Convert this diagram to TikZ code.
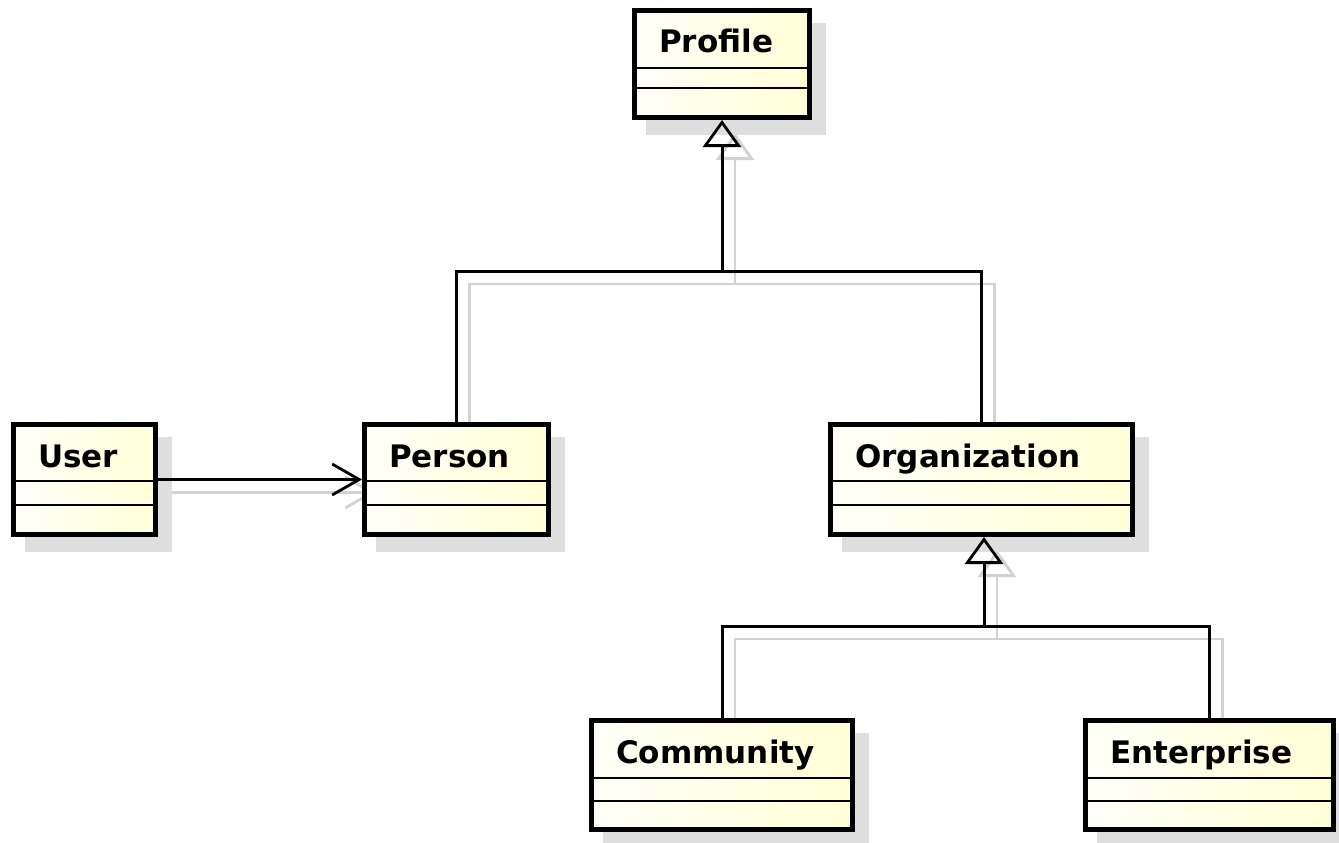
\documentclass[tikz,border=0pt]{standalone}
\usepackage{fontspec}
\setmainfont{DejaVu Sans}
\usetikzlibrary{arrows.meta,calc}
\pgfdeclarelayer{bgfill}
\pgfdeclarelayer{shline}
\pgfdeclarelayer{shbox}
\pgfsetlayers{bgfill,shline,shbox,main}
\definecolor{clsL}{RGB}{255,255,248}
\definecolor{clsR}{RGB}{255,255,214}
\definecolor{shadowc}{RGB}{222,222,222}
\definecolor{shlinec}{RGB}{210,210,210}
\tikzset{
  cls/.style={draw=black, line width=5pt, rectangle, inner sep=0pt, left color=clsL, right color=clsR},
  sepline/.style={draw=black, line width=2.4pt},
  lbl/.style={inner sep=0pt, anchor=base west, font=\bfseries\fontsize{31}{37}\selectfont},
  conn/.style={draw=black, line width=3pt},
  gen/.style={-{Triangle[open, length=27pt, width=38pt, line width=2.8pt]}},
  assoc/.style={-{Straight Barb[length=27pt, width=31pt, line width=2.8pt]}},
  shconn/.style={draw=shlinec, line width=2.4pt},
  sh/.style={shift={(13,13)}},
}
\newcommand\umlbox[8]{%
  \begin{pgfonlayer}{shbox}
    \fill[shadowc] (#3+14,#4+15) rectangle (#5+14,#6+15);
  \end{pgfonlayer}
  \node[cls, minimum width={#5-#3-5}, minimum height={#6-#4-5}] (#1) at ({(#3+#5)/2},{(#4+#6)/2}) {};
  \draw[sepline] (#3,#7) -- (#5,#7);
  \draw[sepline] (#3,#8) -- (#5,#8);
  \node[lbl] (#1-name) at (#3+27,#4+45) {#2};
}
\begin{document}
\begin{tikzpicture}[x=1pt,y=-1pt]
\begin{pgfonlayer}{bgfill}
  \fill[white] (0,0) rectangle (1339,843);
\end{pgfonlayer}
\useasboundingbox (0,0) rectangle (1339,843);

% classes: name, text, left, top, right, bottom, line1, line2
\umlbox{profile}{Profile}{632}{8}{812}{120}{68}{88}
\umlbox{user}{User}{11}{422}{158}{537}{481}{505}
\umlbox{person}{Person}{362}{422}{551}{537}{481}{505}
\umlbox{org}{Organization}{828}{422}{1135}{537}{481}{505}
\umlbox{community}{Community}{589}{718}{855}{832}{778}{801}
\umlbox{enterprise}{Enterprise}{1083}{718}{1336}{832}{778}{801}

% junction points
\coordinate (j1) at (722,271);
\coordinate (j2) at (984,626);
\coordinate (j1s) at (735,284);
\coordinate (j2s) at (997,639);
\coordinate (orgb) at (org.south -| j2);
\coordinate (orgbs) at ($(orgb)+(13,13)$);

% generalization Person/Organization -> Profile
\draw[conn] (person.north) |- (j1) -| (org.north);
\draw[conn, gen] (j1) -- (profile.south);

% generalization Community/Enterprise -> Organization
\draw[conn] (community.north) |- (j2) -| (enterprise.north);
\draw[conn, gen] (j2) -- (orgb);

% association User -> Person
\draw[conn, assoc] (user.east) -- (person.west);

% connector shadows
\begin{pgfonlayer}{shline}
  \draw[shconn] ([sh]person.north) |- (j1s) -| ([sh]org.north);
  \draw[shconn, gen] (j1s) -- ([sh]profile.south);
  \draw[shconn] ([sh]community.north) |- (j2s) -| ([sh]enterprise.north);
  \draw[shconn, gen] (j2s) -- (orgbs);
  \draw[shconn, assoc] ([sh]user.east) -- ([sh]person.west);
\end{pgfonlayer}
\end{tikzpicture}
\end{document}
